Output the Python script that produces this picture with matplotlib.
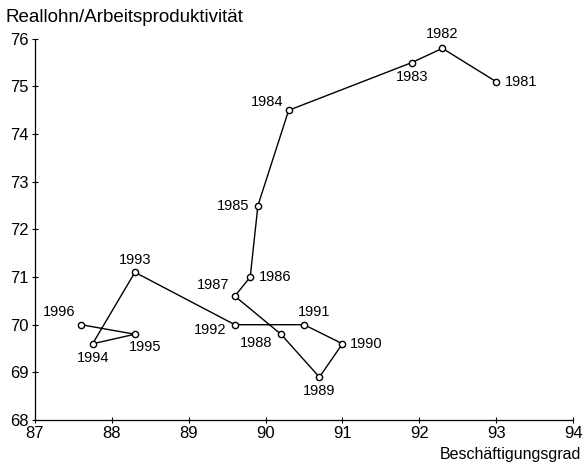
import matplotlib.pyplot as plt

plt.rcParams['font.family'] = ['Liberation Sans', 'DejaVu Sans']

# Beschaeftigungsgrad (x) und Reallohn/Arbeitsproduktivitaet (y), 1981-1996
years = [1981, 1982, 1983, 1984, 1985, 1986, 1987, 1988,
         1989, 1990, 1991, 1992, 1993, 1994, 1995, 1996]
employment = [93.0, 92.3, 91.9, 90.3, 89.9, 89.8, 89.6, 90.2,
              90.7, 91.0, 90.5, 89.6, 88.3, 87.75, 88.3, 87.6]
wage_ratio = [75.1, 75.8, 75.5, 74.5, 72.5, 71.0, 70.6, 69.8,
              68.9, 69.6, 70.0, 70.0, 71.1, 69.6, 69.8, 70.0]

xticks = [87, 88, 89, 90, 91, 92, 93, 94]
yticks = [68, 69, 70, 71, 72, 73, 74, 75, 76]

# label placement per year: (dx, dy) in points, horizontal alignment
label_pos = {
    1981: (6, 0, 'left'), 1982: (0, 10, 'center'), 1983: (0, -10, 'center'),
    1984: (-4, 6, 'right'), 1985: (-6, 0, 'right'), 1986: (6, 0, 'left'),
    1987: (-4, 8, 'right'), 1988: (-6, -6, 'right'), 1989: (0, -10, 'center'),
    1990: (5, 0, 'left'), 1991: (7, 9, 'center'), 1992: (-6, -4, 'right'),
    1993: (0, 9, 'center'), 1994: (0, -10, 'center'), 1995: (-4, -9, 'left'),
    1996: (-4, 9, 'right'),
}

fig = plt.figure(figsize=(5.83, 4.66), dpi=100)
ax = fig.add_axes([0.060, 0.0987, 0.923, 0.818])

ax.plot(employment, wage_ratio, color='black', lw=1.0,
        marker='o', ms=4.5, mfc='white', mec='black', mew=1.0, zorder=3)

for yr, x, y in zip(years, employment, wage_ratio):
    dx, dy, ha = label_pos[yr]
    ax.annotate(str(yr), (x, y), xytext=(dx, dy), textcoords='offset points',
                ha=ha, va='center', fontsize=10.5)

ax.set_xlim(87, 94)
ax.set_ylim(68, 76)
ax.set_xticks(xticks)
ax.set_yticks(yticks)
ax.tick_params(direction='inout', length=5, width=0.8, labelsize=12)
ax.tick_params(axis='x', pad=2)
ax.tick_params(axis='y', pad=2)
for s in ['top', 'right']:
    ax.spines[s].set_visible(False)
for s in ['left', 'bottom']:
    ax.spines[s].set_linewidth(0.9)

fig.text(0.009, 0.963, 'Reallohn/Arbeitsproduktivität', fontsize=13.5,
         ha='left', va='center')
fig.text(0.997, 0.024, 'Beschäftigungsgrad', fontsize=11.5,
         ha='right', va='center')

fig.savefig('out.png', dpi=100)
